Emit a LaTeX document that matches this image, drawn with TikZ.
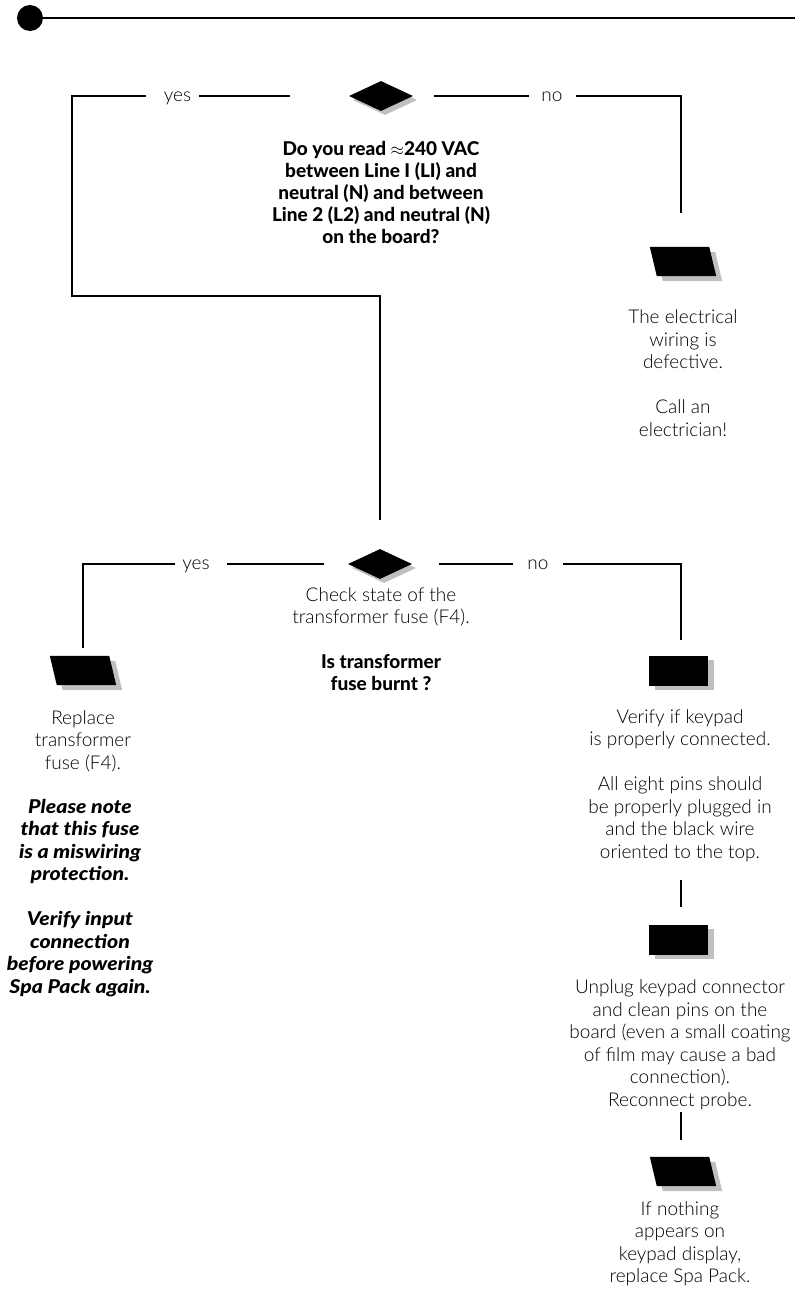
\documentclass[tikz,border=0pt]{standalone}
\usepackage{fontspec}
\setmainfont{Lato Light}[BoldFont={Lato Heavy}, BoldItalicFont={Lato Heavy Italic}]
\newfontfamily\notefont{Lato Heavy Italic}[FakeStretch=1.12]
\usetikzlibrary{shapes.geometric,shadows}
\newcommand\paraShape[1]{%
  \fill[black!25] ([xshift=6pt,yshift=-5pt]#1.north west) -- ([xshift=-1pt,yshift=-5pt]#1.north east)
    -- ([xshift=6pt,yshift=-5pt]#1.south east) -- ([xshift=13pt,yshift=-5pt]#1.south west) -- cycle;
  \fill[black] (#1.north west) -- ([xshift=-7pt]#1.north east)
    -- (#1.south east) -- ([xshift=7pt]#1.south west) -- cycle;}
\begin{document}
\begin{tikzpicture}[x=1pt,y=-1pt,
  every node/.style={font=\fontsize{19}{22.5}\selectfont},
  txt/.style={align=center, inner sep=0pt},
  qtxt/.style={align=center, inner sep=0pt, font=\fontsize{19}{22}\selectfont\bfseries},
  ntxt/.style={align=center, inner sep=0pt, font=\fontsize{19}{22.5}\selectfont\notefont},
  lbl/.style={inner sep=0pt, anchor=base},
  decbox/.style={diamond, fill=black, minimum width=64pt, minimum height=30pt, inner sep=0pt,
    general shadow={shadow xshift=4pt, shadow yshift=-4pt, fill=black!25}},
  parabox/.style={rectangle, minimum width=66pt, minimum height=29pt, inner sep=0pt},
  rectbox/.style={rectangle, fill=black, minimum width=59pt, minimum height=30pt, inner sep=0pt,
    general shadow={shadow xshift=6pt, shadow yshift=-4pt, fill=black!25}},
  wire/.style={line width=1.2pt}]
\useasboundingbox (0,0) rectangle (795,1304);

% header
\node[circle, fill=black, minimum size=26pt, inner sep=0pt] (dot) at (30,18) {};
\coordinate (hend) at (795,18);
\draw[line width=1.6pt] (dot) -- (hend);

% first decision
\node[decbox] (d1) at (381,96) {};
\node[lbl] (yes1) at (177.5,101) {yes};
\node[lbl] (no1) at (552,101) {no};
\node[qtxt] (q1) at (381,192) {Do you read $\approx$240 VAC\\between Line I (LI) and\\neutral (N) and between\\Line 2 (L2) and neutral (N)\\on the board?};
\coordinate (k1) at (72,296);

\node[decbox] (d2) at (380,564) {};

\draw[wire, shorten <=8pt, shorten >=59pt] (d1.west -| yes1.east) -- (d1.west);
\draw[wire, shorten <=18pt] (d1.west -| yes1.west) -| (k1) -| ([yshift=29pt]d2.north);
\draw[wire, shorten <=21pt, shorten >=12pt] (d1.east) -- (d1.east -| no1.west);

% electrical wiring branch
\node[parabox] (p1) at (683,261.5) {};
\paraShape{p1}
\draw[wire, shorten <=13pt] (d1.east -| no1.east) -| ([xshift=-2pt,yshift=34pt]p1.north);
\node[txt] (t2) at (683,373) {The electrical\\wiring is\\defective.\\[22.5pt]Call an\\electrician!};

% second decision
\node[lbl] (yes2) at (196,569) {yes};
\node[lbl] (no2) at (538,569) {no};
\node[txt] (t3) at (381,607) {Check state of the\\transformer fuse (F4).};
\node[qtxt] (t4) at (381,673) {Is transformer\\fuse burnt ?};

\node[parabox] (p2) at (83,670.5) {};
\paraShape{p2}
\node[rectbox] (b1) at (678.5,671) {};

\draw[wire, shorten <=7pt] (d2.west -| yes2.west) -| ([yshift=8pt]p2.north);
\draw[wire, shorten <=17pt, shorten >=24pt] (d2.west -| yes2.east) -- (d2.west);
\draw[wire, shorten <=27pt, shorten >=14pt] (d2.east) -- (d2.east -| no2.west);
\draw[wire, shorten <=14pt] (d2.east -| no2.east) -| ([xshift=2.5pt,yshift=16pt]b1.north);

% left column text
\node[txt] (t5a) at (83,741) {Replace\\transformer\\fuse (F4).};
\node[ntxt] (t5b) at (80,841.5) {Please note\\that this fuse\\is a miswiring\\protection.};
\node[ntxt] (t5c) at (80,954) {Verify input\\connection\\before powering\\Spa Pack again.};

% right column
\node[txt] (t6) at (680,785.5) {Verify if keypad\\is properly connected.\\[22.5pt]All eight pins should\\be properly plugged in\\and the black wire\\oriented to the top.};
\node[rectbox] (b2) at (678.5,940) {};
\draw[wire] ([xshift=2.5pt,yshift=45pt]b2.north) -- ([xshift=2.5pt,yshift=18pt]b2.north);
\node[txt] (t8) at (680,1044.5) {Unplug keypad connector\\and clean pins on the\\board (even a small coating\\of film may cause a bad\\connection).\\Reconnect probe.};
\node[parabox] (p3) at (683,1171.5) {};
\paraShape{p3}
\draw[wire] ([xshift=-2pt,yshift=45pt]p3.north) -- ([xshift=-2pt,yshift=17pt]p3.north);
\node[txt] (t9) at (680,1243.5) {If nothing\\appears on\\keypad display,\\replace Spa Pack.};
\end{tikzpicture}
\end{document}
